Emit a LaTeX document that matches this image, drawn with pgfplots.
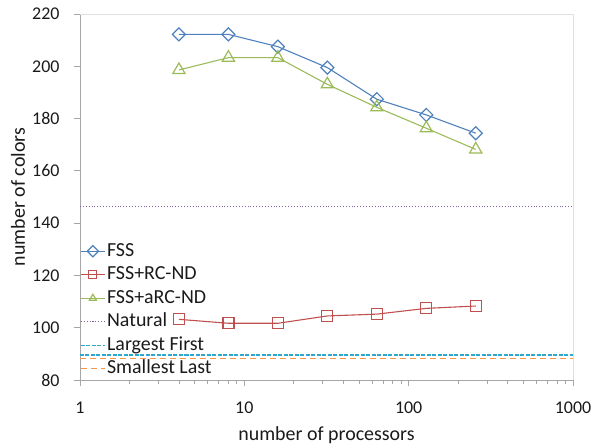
\documentclass[border=0pt]{standalone}
\usepackage{pgfplots}
\pgfplotsset{compat=1.18}
\usetikzlibrary{calc}
\usepackage{fontspec}
\setmainfont{Carlito}
\definecolor{cFSS}{HTML}{4F81BD}
\definecolor{cRC}{HTML}{C0504D}
\definecolor{cARC}{HTML}{9BBB59}
\definecolor{cNat}{HTML}{8064A2}
\definecolor{cLF}{HTML}{2FA8CC}
\definecolor{cSL}{HTML}{F79646}
\definecolor{axgray}{HTML}{A6A6A6}
\definecolor{txt}{HTML}{1A1A1A}
\begin{document}
\begin{tikzpicture}
\begin{axis}[
  scale only axis,
  width=493bp, height=366bp,
  xmode=log, xmin=1, xmax=1000,
  ymin=80, ymax=220,
  ytick={80,100,...,220},
  xtick={1,10,100,1000},
  xticklabels={1,10,100,1000},
  minor xtick={2,3,4,5,6,7,8,9,20,30,40,50,60,70,80,90,200,300,400,500,600,700,800,900},
  axis x line*=bottom, axis y line*=left,
  axis line style={axgray, line width=0.8pt, -},
  tick style={axgray, line width=0.8pt},
  tick align=outside,
  major tick length=6bp, minor tick length=4bp,
  /pgf/number format/assume math mode=true,
  tick label style={font=\fontsize{18}{21}\selectfont, text=txt},
  xticklabel style={yshift=-12bp},
  yticklabel style={xshift=-11bp},
  xlabel={number of processors}, ylabel={number of colors},
  label style={font=\fontsize{20}{24}\selectfont, text=txt},
  xlabel style={at={(rel axis cs:0.5,0)}, anchor=base, yshift=-60bp},
  ylabel style={at={(rel axis cs:0,0.5)}, anchor=base, yshift=55bp},
  legend cell align=left,
  legend style={at={(rel axis cs:0,0.377)}, anchor=north west, draw=none, fill=none,
    inner xsep=0pt, inner ysep=0pt, row sep=5.5bp,
    font=\fontsize{20}{24}\selectfont, text=txt,
    nodes={inner xsep=1.5bp, inner ysep=0bp, text height=14bp, text depth=4bp}},
  legend image code/.code={\draw[mark repeat=2,mark phase=2, mark size=4bp] plot coordinates {(0bp,0bp)(12bp,0bp)(24bp,0bp)};},
  clip=false,
]
\path[use as bounding box] ($(rel axis cs:0,0)+(-80bp,-65bp)$) rectangle ($(rel axis cs:1,1)+(22bp,14bp)$);
\draw[black!12, line width=0.8pt] (rel axis cs:0,1) -- (rel axis cs:1,1) -- (rel axis cs:1,0);
\addplot[cFSS, line width=1.1pt, mark=square, mark size=4.6bp, mark options={rotate=45, line width=1.2pt}]
  coordinates {(4,212.2)(8,212.2)(16,207.5)(32,199.5)(64,187.4)(128,181.4)(256,174.4)};
\addlegendentry{FSS}
\addplot[cRC, line width=1.1pt, mark=square, mark size=5.5bp, mark options={line width=1.2pt}]
  coordinates {(4,103.2)(8,101.7)(16,101.7)(32,104.5)(64,105.2)(128,107.4)(256,108.3)};
\addlegendentry{FSS+RC-ND}
\addplot[cARC, line width=1.1pt, mark=triangle, mark size=7bp, mark options={line width=1.2pt}]
  coordinates {(4,198.6)(8,203.3)(16,203.3)(32,193.1)(64,184.3)(128,176.3)(256,168.2)};
\addlegendentry{FSS+aRC-ND}
\addplot[cNat, line width=0.9pt, dotted, no marks] coordinates {(1,146.5)(1000,146.5)};
\addlegendentry{Natural}
\addplot[color=cLF, line width=1.4pt, dash pattern=on 4bp off 1.5bp, no marks] coordinates {(1,89.5)(1000,89.5)};
\addlegendentry{Largest First}
\addplot[color=cSL, line width=1.3pt, dash pattern=on 6bp off 4bp, no marks] coordinates {(1,88.3)(1000,88.3)};
\addlegendentry{Smallest Last}
\end{axis}
\end{tikzpicture}
\end{document}
